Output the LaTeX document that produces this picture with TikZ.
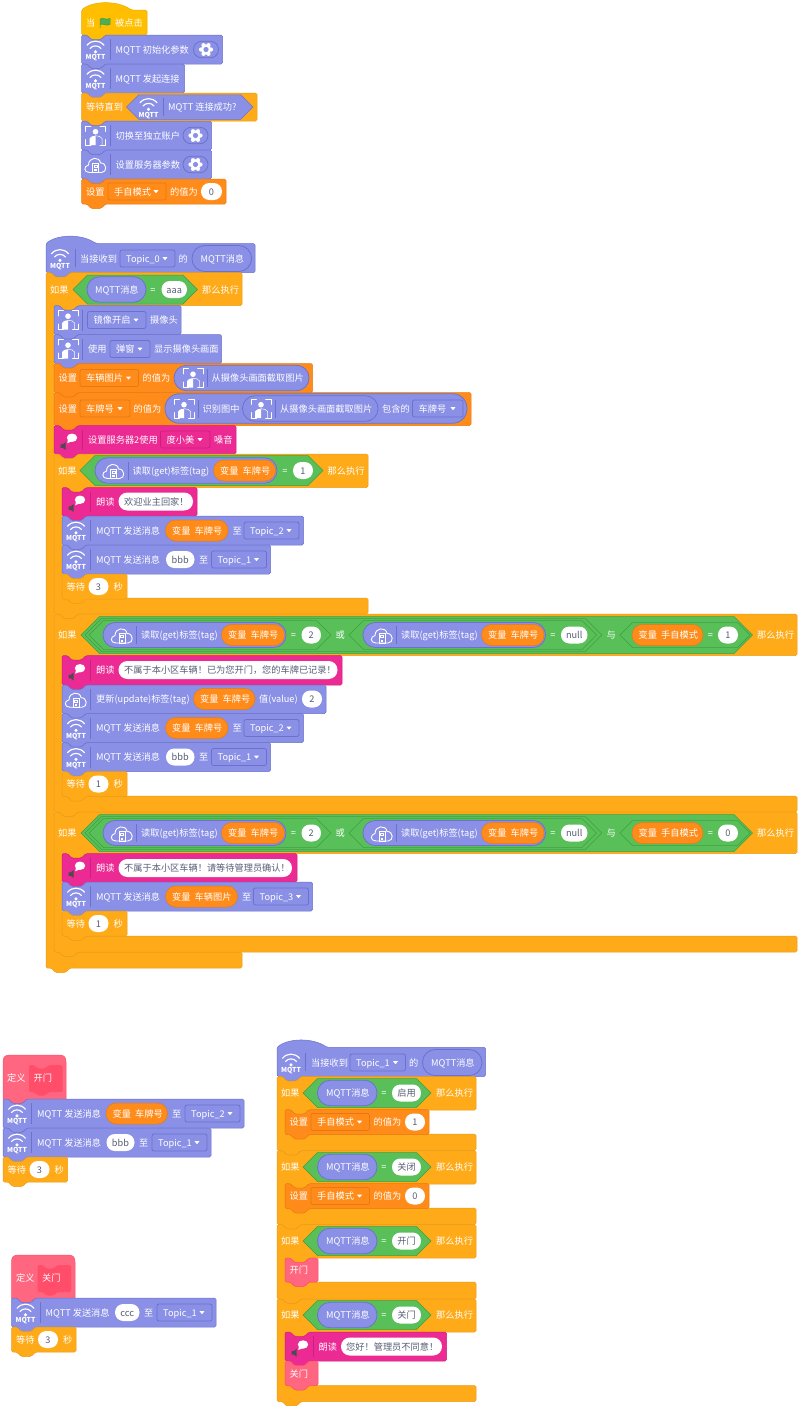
\documentclass[tikz,border=0pt]{standalone}
\usepackage{fontspec}
\setmainfont{Noto Sans CJK SC}
\definecolor{cP}{HTML}{8A90E6}\definecolor{bP}{HTML}{6C72CC}
\definecolor{cC}{HTML}{FFAB19}\definecolor{bC}{HTML}{E89C18}
\definecolor{cV}{HTML}{FF8C1A}\definecolor{bV}{HTML}{E67A10}
\definecolor{cG}{HTML}{59C059}\definecolor{bG}{HTML}{3F9F3F}
\definecolor{cK}{HTML}{EC2A93}\definecolor{bK}{HTML}{CE1F7E}
\definecolor{cR}{HTML}{FF6680}\definecolor{bR}{HTML}{FF4D6A}
\definecolor{cH}{HTML}{FFBF00}\definecolor{bH}{HTML}{E6AC00}
\definecolor{dk}{HTML}{575E75}
\newcounter{nn}
\tikzset{
 pur/.style={fill=cP,draw=bP,line width=.5pt},
 ctl/.style={fill=cC,draw=bC,line width=.5pt},
 var/.style={fill=cV,draw=bV,line width=.5pt},
 pnk/.style={fill=cK,draw=bK,line width=.5pt},
 red/.style={fill=cR,draw=bR,line width=.5pt},
 hty/.style={fill=cH,draw=bH,line width=.5pt},
 grn/.style={fill=cG,draw=bG,line width=.5pt},
 purring/.style={fill=cP,draw=bP,line width=.8pt},
 whp/.style={fill=white},
 ddP/.style={fill=cP,draw=bP,line width=.8pt},
 ddV/.style={fill=cV,draw=bV,line width=.8pt},
 ddK/.style={fill=cK,draw=bK,line width=.8pt},
 tx/.style={anchor=west,inner sep=0pt,text=white,font=\fontsize{9.2}{10}\selectfont,text height=8pt,text depth=.8pt},
 txd/.style={tx,text=dk},
 ctr/.style={anchor=center,inner sep=0pt,text=dk,font=\fontsize{9.2}{10}\selectfont,text height=8pt,text depth=.8pt},
 tiny/.style={anchor=center,inner sep=0pt,text=white,font=\fontsize{6.8}{7}\selectfont\bfseries},
 icn/.style={white,line width=.9pt,line cap=round,line join=round},
}
% text
\newcommand\Rlb[3]{\stepcounter{nn}\node[tx] (t\thenn) at (#1,#2) {#3};}
% stack block
\newcommand\Rbk[5]{\path[#5,rounded corners=1.5pt] (#1,#3) -- (#1+5.5,#3) -- (#1+9.5,#3+4.5) -- (#1+19.5,#3+4.5) -- (#1+24,#3) -- (#2,#3) -- (#2,#4) -- (#1+24,#4) -- (#1+19.5,#4+4.5) -- (#1+9.5,#4+4.5) -- (#1+5.5,#4) -- (#1,#4) -- cycle;}
% separator
\newcommand\Rsp[4]{\draw[#4,line width=.5pt] (#1,#2) -- (#1,#3);}
% icon block: x1,x2,y1,y2,style,border,iconmacro
\newcommand\Rib[7]{\Rbk{#1}{#2}{#3}{#4}{#5}\Rsp{#1+28.5}{#3+4}{#4-4}{#6}#7{#1+14}{(#3+#4)/2}}
% hat with hump
\newcommand\Rht[5]{\path[#5,rounded corners=1.5pt] (#1,#3) .. controls (#1+12,#3-9.5) and (#1+36,#3-9.5) .. (#1+50,#3) -- (#2,#3) -- (#2,#4) -- (#1+24,#4) -- (#1+19.5,#4+4.5) -- (#1+9.5,#4+4.5) -- (#1+5.5,#4) -- (#1,#4) -- cycle;}
% definition hat
\newcommand\Rdef[4]{\path[red] (#1,#4) -- (#1,#3+7) .. controls (#1,#3+2) and (#1+2,#3) .. (#1+7,#3) -- (#2-7,#3) .. controls (#2-2,#3) and (#2,#3+2) .. (#2,#3+7) -- (#2,#4) -- (#1+24,#4) -- (#1+19.5,#4+4.5) -- (#1+9.5,#4+4.5) -- (#1+5.5,#4) -- cycle;}
% prototype: x1,x2,y1,y2
\newcommand\Rpro[4]{\path[fill=bR,rounded corners=1.5pt] (#1,#3) -- (#1+5,#3) -- (#1+9,#3+3.5) -- (#1+16,#3+3.5) -- (#1+20,#3) -- (#2,#3) -- (#2,#4) -- (#1+20,#4) -- (#1+16,#4+3.5) -- (#1+9,#4+3.5) -- (#1+5,#4) -- (#1,#4) -- cycle;}
% C block: x1,x2head,y1,yh,ym,y2,x2foot
\newcommand\Rcb[7]{\path[ctl,rounded corners=1.5pt] (#1,#3) -- (#1+5.5,#3) -- (#1+9.5,#3+4.5) -- (#1+19.5,#3+4.5) -- (#1+24,#3) -- (#2,#3) -- (#2,#4) -- (#1+32,#4) -- (#1+27.5,#4+4.5) -- (#1+17.5,#4+4.5) -- (#1+13.5,#4) -- (#1+8,#4) -- (#1+8,#5) -- (#1+13.5,#5) -- (#1+17.5,#5+4.5) -- (#1+27.5,#5+4.5) -- (#1+32,#5) -- (#7,#5) -- (#7,#6) -- (#1+24,#6) -- (#1+19.5,#6+4.5) -- (#1+9.5,#6+4.5) -- (#1+5.5,#6) -- (#1,#6) -- cycle;}
% pill x1,x2,yc,h,style
\newcommand\Rpl[5]{\path[#5,rounded corners={(#4)*.49pt}] (#1,#3-#4/2) rectangle (#2,#3+#4/2);}
% hexagon tipL,tipR,yc,h,style
\newcommand\Rhx[5]{\path[#5] (#1,#3) -- (#1+#4/2,#3-#4/2) -- (#2-#4/2,#3-#4/2) -- (#2,#3) -- (#2-#4/2,#3+#4/2) -- (#1+#4/2,#3+#4/2) -- cycle;}
% triangle
\newcommand\Rtri[2]{\fill[white,rounded corners=.4pt] (#1-2.6,#2-1.3) -- (#1+2.6,#2-1.3) -- (#1,#2+1.6) -- cycle;}
% dropdown x1,x2,yc,text,style
\newcommand\Rdd[5]{\path[#5,rounded corners=2pt] (#1,#3-8.5) rectangle (#2,#3+8.5);\Rlb{#1+6}{#3}{#4}\Rtri{#2-10}{#3}}
% number pill
\newcommand\Rnm[4]{\Rpl{#1}{#2}{#3}{17}{whp}\stepcounter{nn}\node[ctr] (t\thenn) at ({(#1+#2)/2},#3) {#4};}
% variable pill
\newcommand\Rvr[4]{\Rpl{#1}{#2}{#3}{21}{var}\Rlb{#1+6.5}{#3}{#4}}
% equals
\newcommand\Req[2]{\stepcounter{nn}\node[ctr,text=white] (t\thenn) at (#1,#2) {=};}
% gear
\newcommand\IGear[2]{\Rpl{#1-12.5}{#1+12.5}{#2}{16.5}{purring}\begin{scope}[shift={({#1},{#2})}]
 \foreach \a in {0,60,...,300}{\fill[white] (\a:5) circle (2.1pt);}
 \fill[white] (0,0) circle (5.2pt);\fill[cP] (0,0) circle (2.6pt);\end{scope}}
% icons
\newcommand\IWifi[2]{\begin{scope}[shift={({#1},{#2})}]
 \draw[icn,line width=1.15pt] (-8.5,-4.2) .. controls (-4,-9.8) and (4,-9.8) .. (8.5,-4.2);
 \draw[icn,line width=1.15pt] (-5.5,-1) .. controls (-3,-4.5) and (3,-4.5) .. (5.5,-1);
 \fill[white] (0,2.3) circle (1.7pt);
 \stepcounter{nn}\node[tiny] (t\thenn) at (0,8.2) {MQTT};\end{scope}}
\newcommand\IPer[2]{\begin{scope}[shift={({#1},{#2})}]
 \draw[icn,line width=.8pt] (-10,-4) -- (-10,-9.5) -- (-4.5,-9.5) (4.5,-9.5) -- (10,-9.5) -- (10,-4) (10,4) -- (10,9.5) -- (4.5,9.5) (-4.5,9.5) -- (-10,9.5) -- (-10,4);
 \fill[white] (0,-3.8) circle (2.8pt);
 \fill[white] (-6,9.5) -- (-6,3) .. controls (-5.5,.8) and (-2,.5) .. (0,.2) -- (0,9.5) -- cycle;
 \draw[white,line width=.5pt] (0,.2) .. controls (3,.5) and (6,1) .. (6.5,3) -- (6.5,9.5);
 \end{scope}}
\newcommand\ICl[2]{\begin{scope}[shift={({#1},{#2})}]
 \draw[icn] (-6,8) .. controls (-12,8) and (-12,1.5) .. (-7,.5) .. controls (-7,-7.5) and (4,-8.5) .. (5,-1.5) .. controls (11.5,-2) and (12,8) .. (6,8) -- cycle;
 \draw[white,line width=.5pt] (-2.8,-1.5) rectangle (2.8,8);
 \draw[white,line width=.5pt] (-1.3,.5) rectangle (1.3,2.5);
 \fill[white] (-1.3,4.5) rectangle (1.3,6.5);
 \end{scope}}
\newcommand\ISp[2]{\begin{scope}[shift={({#1},{#2})}]
 \fill[white] (4,-2) ellipse [x radius=5.2pt,y radius=4.2pt];
 \fill[white] (0,-.5) -- (-.8,3.5) -- (4,1.5) -- cycle;
 \fill[black!70] (-7.5,4.5) -- (-5.3,4.5) -- (-2.3,2.3) -- (-2.3,10.3) -- (-5.3,8) -- (-7.5,8) -- cycle;
 \end{scope}}
\newcommand\IFlag[2]{\begin{scope}[shift={({#1},{#2})}]
 \path[fill=cG!90!black,draw=bG,line width=.5pt] (-4.8,5) -- (-4.8,-4) .. controls (-2,-6) and (1,-2.5) .. (5,-4.5) -- (5,1.5) .. controls (1,3.5) and (-2,0) .. (-4.8,1.5) -- cycle;
 \end{scope}}
% MQTT send rows
\newcommand\Rsendvar[8]{% x,x2,y1,pillx1,pillx2,varText,ddx1,topic
 \Rib{#1}{#2}{#3}{#3+29}{pur}{bP}{\IWifi}\Rlb{#1+34}{#3+14.5}{MQTT 发送消息}\Rvr{#4}{#5}{#3+14.5}{#6}\Rlb{#5+4.5}{#3+14.5}{至}\Rdd{#7}{#7+55}{#3+14.5}{#8}{ddP}}
\newcommand\Rsendtxt[7]{% x,x2,y1,nx1,nx2,txt,ddx1 ; #7 and topic
 \Rib{#1}{#2}{#3}{#3+29}{pur}{bP}{\IWifi}\Rlb{#1+34}{#3+14.5}{MQTT 发送消息}\Rnm{#4}{#5}{#3+14.5}{#6}\Rlb{#5+4.5}{#3+14.5}{至}\Rdd{#7}{#7+55}{#3+14.5}{Topic\_1}{ddP}}
\newcommand\Rwait[4]{% x,x2,y1,val
 \Rbk{#1}{#2}{#3}{#3+25}{ctl}\Rlb{#1+4.5}{#3+12.5}{等待}\Rnm{#1+26.5}{#1+46.5}{#3+12.5}{#4}\Rlb{#1+51.5}{#3+12.5}{秒}}
\newcommand\Rread[4]{% pill left x, var right, yc, unused
 \Rpl{#1}{#2}{#3}{25}{purring}\ICl{#1+19}{#3}\Rsp{#1+33}{#3-9}{#3+9}{bP}\Rlb{#1+38}{#3}{读取(get)标签(tag)}\Rvr{#1+118.5}{#2-1.5}{#3}{变量\hspace{2pt} 车牌号}}
% big condition blocks
\newcommand\Rbig[1]{%
 \Rlb{58}{635}{如果}
 \Rhx{81}{752.5}{635}{37}{grn}
 \Rhx{85}{601.7}{635}{33}{grn}
 \Rhx{89}{331}{635}{29}{grn}
 \Rread{103}{286}{635}{}
 \Req{293.5}{635}\Rnm{301.5}{321}{635}{2}
 \Rlb{335.5}{635}{或}
 \Rhx{349}{596.5}{635}{29}{grn}
 \Rread{363}{545.5}{635}{}
 \Req{553}{635}\Rnm{561}{587.5}{635}{null}
 \Rlb{606.5}{635}{与}
 \Rhx{620}{750}{635}{25}{grn}
 \Rvr{632}{703}{635}{变量\hspace{2pt} 手自模式}
 \Req{710.5}{635}\Rnm{718}{738}{635}{#1}
 \Rlb{757}{635}{那么执行}}
\newcommand\Rmsg[2]{% yc, word
 \Rlb{281}{#1}{如果}
 \Rhx{303}{431}{#1}{29}{grn}
 \Rpl{317.5}{377}{#1}{25.5}{purring}\Rlb{326}{#1}{MQTT消息}
 \Req{384}{#1}\Rnm{392}{421}{#1}{#2}
 \Rlb{436}{#1}{那么执行}}
\newcommand\Rset[2]{% y1,val
 \Rbk{285}{429}{#1}{#1+25}{var}\Rlb{289.5}{#1+12.5}{设置}\Rdd{311}{369.5}{#1+12.5}{手自模式}{ddV}\Rlb{373.5}{#1+12.5}{的值为}\Rnm{405}{425}{#1+12.5}{#2}}
\begin{document}
\begin{tikzpicture}[x=1pt,y=-1pt]
\useasboundingbox (0,0) rectangle (800,1406);
\fill[white] (0,0) rectangle (800,1406);
%% stack 1
\Rht{81.5}{147}{10}{35}{hty}
\Rlb{86}{23}{当}\IFlag{105}{23}\Rlb{115}{23}{被点击}
\Rib{81.5}{222.5}{35}{64}{pur}{bP}{\IWifi}\Rlb{115.5}{49.5}{MQTT 初始化参数}\IGear{206}{49.5}
\Rib{81.5}{184.5}{64}{93}{pur}{bP}{\IWifi}\Rlb{115.5}{78.5}{MQTT 发起连接}
\Rbk{81.5}{257}{93}{121}{ctl}\Rlb{86}{107}{等待直到}
\Rhx{126.5}{253}{107}{24.5}{pur}\IWifi{148.5}{107}\Rsp{163}{98}{116}{bP}\Rlb{168}{107}{MQTT 连接成功?}
\Rib{81.5}{211.5}{121}{150}{pur}{bP}{\IPer}\Rlb{115.5}{135.5}{切换至独立账户}\IGear{195.5}{135.5}
\Rib{81.5}{211.5}{150}{179}{pur}{bP}{\ICl}\Rlb{115.5}{164.5}{设置服务器参数}\IGear{195.5}{164.5}
\Rbk{81.5}{226}{179}{204}{var}\Rlb{86}{191.5}{设置}\Rdd{108}{166}{191.5}{手自模式}{ddV}\Rlb{170}{191.5}{的值为}\Rnm{201}{222}{191.5}{0}
%% stack 2 outer
\Rht{46}{255}{243.5}{272.7}{pur}
\IWifi{60}{258}\Rsp{75}{249}{267}{bP}\Rlb{80}{258.5}{当接收到}\Rdd{120}{175}{258.5}{Topic\_0}{ddP}\Rlb{178.5}{258.5}{的}
\Rpl{192}{251.5}{258.5}{26}{purring}\Rlb{200.5}{258.5}{MQTT消息}
\Rcb{46}{242}{272.7}{305.5}{952}{968}{242}
\Rlb{50}{289.5}{如果}\Rhx{73}{197.5}{289.5}{29}{grn}\Rpl{87}{146}{289.5}{25.5}{purring}\Rlb{95}{289.5}{MQTT消息}\Req{153}{289.5}\Rnm{161.5}{187}{289.5}{aaa}\Rlb{202}{289.5}{那么执行}
\Rib{54}{181}{305.5}{334.5}{pur}{bP}{\IPer}\Rdd{87.5}{146}{320}{镜像开启}{ddP}\Rlb{150}{320}{摄像头}
\Rib{54}{221.5}{334.5}{363.5}{pur}{bP}{\IPer}\Rlb{88}{349}{使用}\Rdd{110}{150}{349}{弹窗}{ddP}\Rlb{154}{349}{显示摄像头画面}
\Rbk{54}{312.5}{363.5}{392.5}{var}\Rlb{58.5}{378}{设置}\Rdd{80}{138.5}{378}{车辆图片}{ddV}\Rlb{142.5}{378}{的值为}
\Rpl{174}{309}{378}{25.5}{purring}\IPer{193}{378}\Rsp{207}{369}{387}{bP}\Rlb{211.5}{378}{从摄像头画面截取图片}
\Rbk{54}{471}{392.5}{425.5}{var}\Rlb{58.5}{408.5}{设置}\Rdd{80}{130}{408.5}{车牌号}{ddV}\Rlb{133.5}{408.5}{的值为}
\Rpl{165}{467}{408.5}{29.5}{purring}\IPer{184}{408.5}\Rsp{198}{399.5}{417.5}{bP}\Rlb{202.5}{408.5}{识别图中}
\Rpl{242.5}{378}{408.5}{25.5}{purring}\IPer{261}{408.5}\Rsp{275.5}{399.5}{417.5}{bP}\Rlb{280}{408.5}{从摄像头画面截取图片}\Rlb{382}{408.5}{包含的}\Rdd{412.5}{463}{408.5}{车牌号}{ddP}
\Rib{54}{236}{425.5}{454}{pnk}{bK}{\ISp}\Rlb{88}{439.5}{设置服务器2使用}\Rdd{160.5}{210}{439.5}{度小美}{ddK}\Rlb{214}{439.5}{嗓音}
%% inner if 1
\Rcb{54}{368}{454}{487.5}{598}{614}{368}
\Rlb{58}{470.5}{如果}\Rhx{80}{323}{470.5}{30}{grn}\Rpl{95}{277}{470.5}{25.5}{purring}\ICl{113.5}{470.5}\Rsp{128}{461.5}{479.5}{bP}\Rlb{132.5}{470.5}{读取(get)标签(tag)}\Rvr{213.5}{275.5}{470.5}{变量\hspace{2pt} 车牌号}\Req{285}{470.5}\Rnm{293}{313}{470.5}{1}\Rlb{327.5}{470.5}{那么执行}
\Rib{62}{197}{487.5}{516}{pnk}{bK}{\ISp}\Rlb{96}{501.5}{朗读}\Rpl{118.5}{193}{501.5}{18}{whp}\stepcounter{nn}\node[txd] (t\thenn) at (124,501.5) {欢迎业主回家！};
\Rsendvar{62}{303.5}{516}{165.5}{228}{变量\hspace{2pt} 车牌号}{244}{Topic\_2}
\Rsendtxt{62}{270.5}{545}{166}{194.5}{bbb}{211.5}
\Rwait{62}{127}{574}{3}
%% inner if 2
\Rcb{54}{797}{614}{655.5}{796}{812}{797}
\Rbig{1}
\Rib{62}{342}{655.5}{685}{pnk}{bK}{\ISp}\Rlb{96}{670}{朗读}\Rpl{118.5}{337.5}{670}{18}{whp}\stepcounter{nn}\node[txd] (t\thenn) at (124,670) {不属于本小区车辆！已为您开门，您的车牌已记录！};
\Rib{62}{326}{685}{713.5}{pur}{bP}{\ICl}\Rlb{96}{699}{更新(update)标签(tag)}\Rvr{193.5}{255}{699}{变量\hspace{2pt} 车牌号}\Rlb{259}{699}{值(value)}\Rnm{302}{322}{699}{2}
\Rsendvar{62}{303.5}{713.5}{165.5}{228}{变量\hspace{2pt} 车牌号}{244}{Topic\_2}
\Rsendtxt{62}{270.5}{742.5}{166}{194.5}{bbb}{211.5}
\Rwait{62}{127}{771.5}{1}
%% inner if 3
\Rcb{54}{797}{812}{853.5}{936}{952}{797}
\begin{scope}[shift={(0,198)}]\Rbig{0}\end{scope}
\Rib{62}{297}{853.5}{882}{pnk}{bK}{\ISp}\Rlb{96}{868}{朗读}\Rpl{118.5}{292}{868}{18}{whp}\stepcounter{nn}\node[txd] (t\thenn) at (124,868) {不属于本小区车辆！请等待管理员确认！};
\Rsendvar{62}{312.5}{882}{165.5}{237.5}{变量\hspace{2pt} 车辆图片}{253.5}{Topic\_3}
\Rwait{62}{127}{911}{1}
%% stack 3
\Rdef{3}{66}{1055}{1099.3}
\Rlb{7}{1078}{定义}\Rpro{29}{62.5}{1065}{1092}\Rlb{33.5}{1078}{开门}
\Rsendvar{3}{244}{1099}{106}{167.5}{变量\hspace{2pt} 车牌号}{185}{Topic\_2}
\Rsendtxt{3}{211}{1128}{106.5}{134.5}{bbb}{152}
\Rwait{3}{67.5}{1157}{3}
%% stack 4
\Rdef{11.5}{75}{1255}{1298.5}
\Rlb{16}{1278}{定义}\Rpro{37.5}{71}{1265}{1292}\Rlb{42}{1278}{关门}
\Rsendtxt{11.5}{216}{1298}{115}{139.5}{ccc}{157}
\Rwait{11.5}{76}{1327}{3}
%% stack 5
\Rht{277}{485.5}{1047.3}{1076.5}{pur}
\IWifi{291}{1062.5}\Rsp{305.5}{1053}{1071}{bP}\Rlb{311}{1062.5}{当接收到}\Rdd{350}{405.5}{1062.5}{Topic\_1}{ddP}\Rlb{409}{1062.5}{的}
\Rpl{422.5}{482}{1062.5}{26}{purring}\Rlb{431}{1062.5}{MQTT消息}
\Rcb{277}{476}{1076.5}{1110}{1134}{1150.5}{476}\Rmsg{1093}{启用}\Rset{1109.5}{1}
\Rcb{277}{476}{1150.5}{1184}{1208}{1224.5}{476}\Rmsg{1167}{关闭}\Rset{1183.5}{0}
\Rcb{277}{476}{1224.5}{1258}{1282}{1299}{476}\Rmsg{1241}{开门}
\Rbk{285}{318}{1258}{1282}{red}\Rlb{289.5}{1270}{开门}
\Rcb{277}{476}{1299}{1332}{1385.5}{1401.5}{476}\Rmsg{1315}{关门}
\Rib{285}{446.5}{1332}{1361}{pnk}{bK}{\ISp}\Rlb{318.5}{1346.5}{朗读}\Rpl{341}{442}{1346.5}{18}{whp}\stepcounter{nn}\node[txd] (t\thenn) at (346,1346.5) {您好！管理员不同意！};
\Rbk{285}{318}{1361}{1385.5}{red}\Rlb{289.5}{1373.5}{关门}
\end{tikzpicture}
\end{document}
